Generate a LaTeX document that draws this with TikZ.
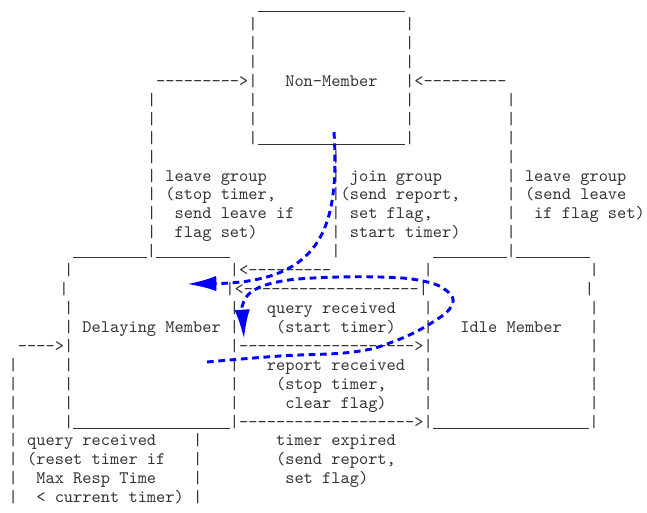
\documentclass[tikz,border=0pt]{standalone}
\usepackage{fontspec}
\setmonofont{lmmono10-regular.otf}
\usetikzlibrary{arrows.meta}

\tikzset{
	asc/.style={anchor=base west,inner sep=0pt,outer sep=0pt,text=black!80,
		font=\ttfamily\fontsize{13.17}{15}\selectfont},
	note/.style={blue,line width=2.2pt,dash pattern=on 5pt off 3.5pt,
		-{Latex[length=22pt,width=11.5pt]}},
	half/.style={xshift=-3.5pt}
}
% one piece of the sketch at row #2, column #3
\newcommand{\tx}[4][]{\node[asc,#1] (r#2c#3) at ({8.7+#3*9.22},{10.8+#2*18.92}) {#4};}
\newcommand{\rep}[2]{\foreach \k in {1,...,#1}{#2}}
% a run of #1 underscores, drawn without gaps
\newcommand{\us}[1]{\rule[-1.2pt]{\dimexpr0.525em*#1\relax}{0.7pt}}

\begin{document}
\begin{tikzpicture}[x=0.75pt,y=-0.75pt]
		\useasboundingbox (0,0) rectangle (647,513);
		% Non-Member
		\tx{0}{27}{\us{16}}
		\foreach \i in {1,2,3} {\tx{\i}{26}{|} \tx{\i}{43}{|}}
		\tx{4}{16}{\rep{9}{-}>|} \tx{4}{30}{Non-Member} \tx{4}{43}{|<\rep{9}{-}}
		\foreach \i in {5,6} {\tx{\i}{15}{|} \tx{\i}{26}{|} \tx{\i}{43}{|} \tx{\i}{54}{|}}
		\tx{7}{15}{|} \tx{7}{26}{|\us{16}|} \tx{7}{54}{|}
		% the three ways out of and into it
		\foreach \i in {8,...,12} {\tx{\i}{15}{|} \tx{\i}{54}{|}}
		\foreach \i in {8,9,11,12,13} {\tx{\i}{35}{|}}
		\tx{9}{17}{leave group} \tx{9}{37}{join group} \tx{9}{56}{leave group}
		\tx{10}{17}{(stop timer,} \tx{10}{35}{|(send report,} \tx{10}{56}{(send leave}
		\tx{11}{18}{send leave if} \tx{11}{37}{set flag,} \tx{11}{57}{if flag set)}
		\tx{12}{18}{flag set)} \tx{12}{37}{start timer)}
		\tx{13}{7}{\us{8}|\us{8}} \tx{13}{46}{\us{8}|\us{8}}
		% Delaying Member and Idle Member
		\tx{14}{6}{|} \tx{14}{24}{|<\rep{9}{-}} \tx{14}{45}{|} \tx{14}{63}{|}
		\tx[half]{15}{6}{|} \tx[half]{15}{24}{|<\rep{19}{-}|} \tx[half]{15}{63}{|}
		\foreach \i in {16,17,19,20,21} {\tx{\i}{6}{|} \tx{\i}{24}{|} \tx{\i}{45}{|} \tx{\i}{63}{|}}
		\tx{16}{28}{query received}
		\tx{17}{8}{Delaying Member} \tx{17}{29}{(start timer)} \tx{17}{49}{Idle Member}
		\tx{18}{1}{\rep{4}{-}>|} \tx{18}{24}{|\rep{19}{-}>|} \tx{18}{63}{|}
		\tx{19}{28}{report received}
		\tx{20}{29}{(stop timer,}
		\tx{21}{30}{clear flag)}
		\tx{22}{6}{|\us{17}|\rep{19}{-}>|\us{17}|}
		\foreach \i in {19,...,26} {\tx{\i}{0}{|}}
		\foreach \i in {23,...,26} {\tx{\i}{20}{|}}
		\tx{23}{2}{query received} \tx{23}{29}{timer expired}
		\tx{24}{2}{(reset timer if} \tx{24}{29}{(send report,}
		\tx{25}{3}{Max Resp Time} \tx{25}{30}{set flag)}
		\tx{26}{3}{< current timer)}
		% blue marks
		\coordinate (s1) at (334,132);
		\coordinate (t1) at (187,284);
		\draw[note] (s1) .. controls (340,230) and (320,282) .. (t1);
		\coordinate (s2) at (207,362);
		\coordinate (t2) at (244,339);
		\draw[note] plot[smooth,tension=0.7] coordinates {(s2) (280,356) (353,352) (395,341) (433,322) (452,305) (447,291) (423,281) (380,277) (313,278) (273,283) (250,293) (242,307)} -- (t2);
	\end{tikzpicture}
\end{document}
